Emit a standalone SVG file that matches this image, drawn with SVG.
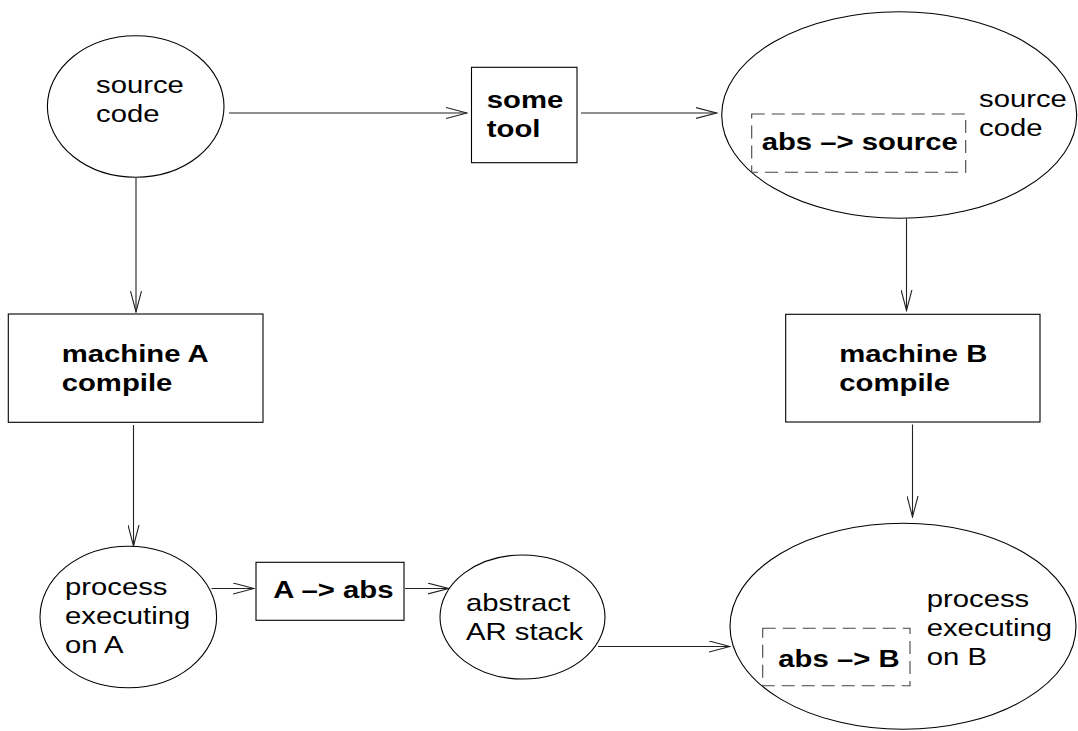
<svg xmlns="http://www.w3.org/2000/svg" width="1078" height="731" viewBox="0 0 1078 731">
<defs>
<style>
.shape{fill:none;stroke:#000;stroke-width:1.1}
.dash{fill:none;stroke:#444;stroke-width:1.1;stroke-dasharray:13 7}
.edge{fill:none;stroke:#222;stroke-width:1.1}
.t{font-family:"Liberation Sans",Arial,sans-serif;font-size:24px;fill:#000}
.b{font-weight:bold}
</style>
<marker id="arr" viewBox="0 0 22 12" refX="21" refY="6" markerWidth="22" markerHeight="12" markerUnits="userSpaceOnUse" orient="auto">
<path d="M0,0.5 L21,6 L0,11.5" fill="none" stroke="#222" stroke-width="1.1"/>
</marker>
</defs>
<rect width="1078" height="731" fill="#fff"/>

<g id="connectors">
<line class="edge" x1="229" y1="113" x2="467" y2="113" marker-end="url(#arr)"/>
<line class="edge" x1="581" y1="113" x2="716.5" y2="113" marker-end="url(#arr)"/>
<line class="edge" x1="136" y1="178" x2="136" y2="312" marker-end="url(#arr)"/>
<line class="edge" x1="133.5" y1="425" x2="133.5" y2="546" marker-end="url(#arr)"/>
<line class="edge" x1="906.5" y1="218.5" x2="906.5" y2="310.5" marker-end="url(#arr)"/>
<line class="edge" x1="912.5" y1="424.5" x2="912.5" y2="517" marker-end="url(#arr)"/>
<line class="edge" x1="211.5" y1="588.5" x2="254" y2="588.5" marker-end="url(#arr)"/>
<line class="edge" x1="405" y1="588.5" x2="448.5" y2="588.5" marker-end="url(#arr)"/>
<line class="edge" x1="598" y1="646.5" x2="730" y2="646.5" marker-end="url(#arr)"/>
</g>

<g id="source-code">
<ellipse class="shape" cx="135.7" cy="106.5" rx="88.3" ry="70.7"/>
<text class="t" transform="translate(96,92.7) scale(1.22,1)"><tspan x="0" y="0">source</tspan><tspan x="0" y="29">code</tspan></text>
</g>

<g id="some-tool">
<rect class="shape" x="471.5" y="67.3" width="105.5" height="95.4"/>
<text class="t b" transform="translate(486.8,108) scale(1.22,1)"><tspan x="0" y="0">some</tspan><tspan x="0" y="29">tool</tspan></text>
</g>

<g id="source-code-b">
<ellipse class="shape" cx="899.2" cy="115" rx="177.5" ry="103.3"/>
<rect class="dash" x="751.7" y="114" width="214" height="58.3"/>
<text class="t b" transform="translate(761.7,150) scale(1.22,1)">abs –&gt; source</text>
<text class="t" transform="translate(979,106.7) scale(1.22,1)"><tspan x="0" y="0">source</tspan><tspan x="0" y="29">code</tspan></text>
</g>

<g id="machine-a-compile">
<rect class="shape" x="8.3" y="314" width="254.7" height="108.3"/>
<text class="t b" transform="translate(61.7,361.7) scale(1.22,1)"><tspan x="0" y="0">machine A</tspan><tspan x="0" y="29">compile</tspan></text>
</g>

<g id="machine-b-compile">
<rect class="shape" x="785.7" y="314.3" width="254.3" height="107.7"/>
<text class="t b" transform="translate(839.3,361.7) scale(1.22,1)"><tspan x="0" y="0">machine B</tspan><tspan x="0" y="29">compile</tspan></text>
</g>

<g id="process-a">
<ellipse class="shape" cx="128.3" cy="617" rx="88.3" ry="70.8"/>
<text class="t" transform="translate(65,595) scale(1.22,1)"><tspan x="0" y="0">process</tspan><tspan x="0" y="29">executing</tspan><tspan x="0" y="58.5">on A</tspan></text>
</g>

<g id="a-to-abs">
<rect class="shape" x="256" y="562.3" width="148" height="58"/>
<text class="t b" transform="translate(273.3,598.3) scale(1.22,1)">A –&gt; abs</text>
</g>

<g id="abstract-ar-stack">
<ellipse class="shape" cx="522.5" cy="617" rx="82.5" ry="62"/>
<text class="t" transform="translate(466,610.7) scale(1.22,1)"><tspan x="0" y="0">abstract</tspan><tspan x="0" y="29">AR stack</tspan></text>
</g>

<g id="process-b">
<ellipse class="shape" cx="903" cy="626.3" rx="173" ry="103"/>
<rect class="dash" x="762.7" y="628.3" width="147.3" height="57.4"/>
<text class="t b" transform="translate(778.3,666.7) scale(1.22,1)">abs –&gt; B</text>
<text class="t" transform="translate(926.7,607.3) scale(1.22,1)"><tspan x="0" y="0">process</tspan><tspan x="0" y="29">executing</tspan><tspan x="0" y="58">on B</tspan></text>
</g>
</svg>
